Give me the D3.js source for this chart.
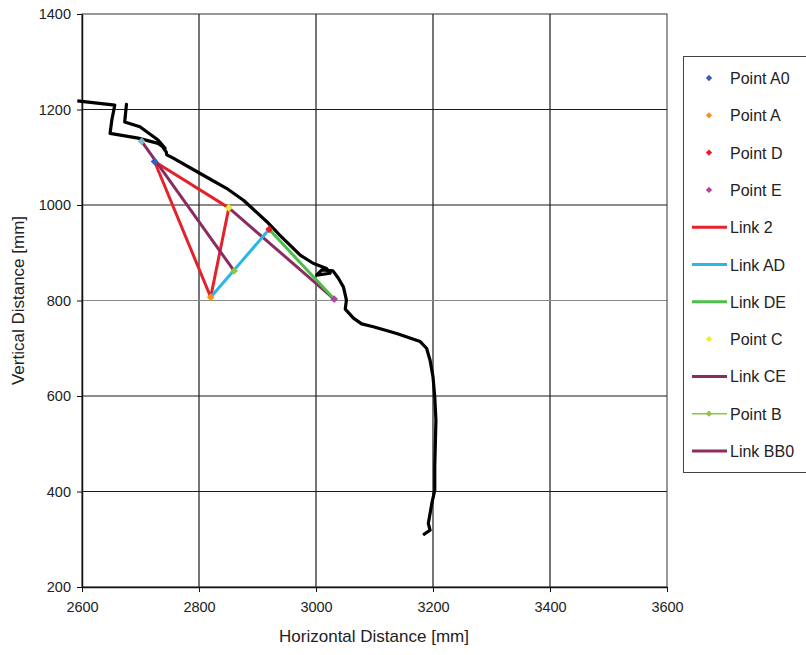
<!DOCTYPE html>
<html lang="en">
<head>
  <meta charset="UTF-8" />
  <title>Mechanism trajectory</title>
  <style>
    body {
      margin: 0;
      background: #fff;
      font-family: "Liberation Sans", Arial, sans-serif;
    }
    svg { display: block; }
    .tick text { fill: #222; font-size: 14.5px; }
    .axis-title { font-size: 17px; fill: #222; }
    .legend text { font-size: 16px; fill: #222; }
  </style>
</head>
<body>
  <svg width="806" height="655"></svg>

  <script src="https://cdnjs.cloudflare.com/ajax/libs/d3/7.8.5/d3.min.js"></script>
  <script>
    // axis ticks
    const xTicks = [2600, 2800, 3000, 3200, 3400, 3600];
    const yTicks = [200, 400, 600, 800, 1000, 1200, 1400];

    // black traced outline [horizontal, vertical] in mm
    const trace = [
      [2592, 1218], [2656, 1209], [2651, 1178], [2648, 1150], [2696, 1140],
      [2730, 1129], [2742, 1119], [2730, 1136], [2699, 1164], [2673, 1174],
      [2676, 1211], [2673, 1174], [2699, 1164], [2730, 1136], [2744, 1111],
      [2745, 1105], [2756, 1098], [2802, 1066], [2847, 1035], [2876, 1010],
      [2916, 965], [2938, 937], [2973, 895], [2995, 878], [3018, 867],
      [3024, 857], [3001, 853], [3010, 864], [3029, 862], [3038, 847],
      [3047, 828], [3052, 801], [3050, 782], [3064, 763], [3078, 751],
      [3098, 745], [3138, 731], [3178, 714], [3189, 700], [3195, 675],
      [3200, 640], [3203, 598], [3205, 550], [3203, 452], [3203, 403],
      [3198, 375], [3192, 333], [3195, 319], [3183, 309]
    ];

    // joint positions
    const pointA0 = [2724, 1091];
    const pointA = [2820, 807];
    const pointC = [2851, 994];
    const pointD = [2920, 949];
    const pointE = [3031, 803];
    const pointB = [2860, 862];
    const pointB0 = [2702, 1133];

    // links (polylines between joints)
    const link2 = [pointA0, pointC, pointA, pointA0];
    const linkAD = [pointA, pointD];
    const linkDE = [pointD, pointE];
    const linkCE = [pointC, pointE];
    const linkBB0 = [pointB0, pointB];

    const legendItems = [
      { name: "Point A0", kind: "point", color: "#3b5bbf" },
      { name: "Point A", kind: "point", color: "#f7941d" },
      { name: "Point D", kind: "point", color: "#ee1c25" },
      { name: "Point E", kind: "point", color: "#b4449f" },
      { name: "Link 2", kind: "line", color: "#e4222b" },
      { name: "Link AD", kind: "line", color: "#2ab7e6" },
      { name: "Link DE", kind: "line", color: "#4cbf48" },
      { name: "Point C", kind: "point", color: "#f2ec2a" },
      { name: "Link CE", kind: "line", color: "#8a2c62" },
      { name: "Point B", kind: "both", color: "#8dc63f" },
      { name: "Link BB0", kind: "line", color: "#8a2c62" }
    ];
    const col = Object.fromEntries(legendItems.map(d => [d.name, d.color]));

    const svg = d3.select("svg");

    const x = d3.scaleLinear().domain([2600, 3600]).range([82, 667]);
    const y = d3.scaleLinear().domain([200, 1400]).range([587, 14]);

    // gridlines
    const grid = svg.append("g");
    grid.selectAll("line.v")
      .data(xTicks.slice(1, -1))
      .join("line")
      .attr("x1", d => x(d)).attr("x2", d => x(d))
      .attr("y1", y(1400)).attr("y2", y(200))
      .attr("stroke", "#1a1a1a").attr("stroke-width", 1.2);
    grid.selectAll("line.h")
      .data(yTicks.slice(1, -1))
      .join("line")
      .attr("x1", x(2600)).attr("x2", x(3600))
      .attr("y1", d => y(d)).attr("y2", d => y(d))
      .attr("stroke", d => d === 800 ? "#8a8a8a" : "#1a1a1a")
      .attr("stroke-width", 1.2);

    // frame
    svg.append("rect")
      .attr("x", x(2600)).attr("y", y(1400))
      .attr("width", x(3600) - x(2600)).attr("height", y(200) - y(1400))
      .attr("fill", "none").attr("stroke", "#333").attr("stroke-width", 1);

    // axes
    const xAxis = svg.append("g")
      .attr("transform", `translate(0,${y(200)})`)
      .call(d3.axisBottom(x).tickValues(xTicks).tickSize(5).tickSizeOuter(0).tickFormat(d3.format("d")));
    xAxis.select(".domain").attr("stroke", "#111").attr("stroke-width", 1.5);
    xAxis.selectAll(".tick line").attr("stroke", "#111");
    xAxis.selectAll(".tick text").attr("dy", "1.2em").style("font-family", "Liberation Sans, Arial, sans-serif");

    const yAxis = svg.append("g")
      .attr("transform", `translate(${x(2600)},0)`)
      .call(d3.axisLeft(y).tickValues(yTicks).tickSize(5).tickSizeOuter(0).tickFormat(d3.format("d")));
    yAxis.select(".domain").attr("stroke", "#111").attr("stroke-width", 1.5);
    yAxis.selectAll(".tick text").attr("x", -11).style("font-family", "Liberation Sans, Arial, sans-serif");
    yAxis.selectAll(".tick line").attr("stroke", "#111");

    svg.append("text")
      .attr("class", "axis-title")
      .attr("x", 374).attr("y", 642)
      .attr("text-anchor", "middle")
      .text("Horizontal Distance [mm]");
    svg.append("text")
      .attr("class", "axis-title")
      .attr("transform", `translate(24,${(y(200) + y(1400)) / 2}) rotate(-90)`)
      .attr("text-anchor", "middle")
      .text("Vertical Distance [mm]");

    const line = d3.line().x(d => x(d[0])).y(d => y(d[1]));

    // trace
    svg.append("path")
      .datum(trace)
      .attr("d", line)
      .attr("fill", "none")
      .attr("stroke", "#000")
      .attr("stroke-width", 3.2)
      .attr("stroke-linejoin", "round");

    // links
    const links = [
      { pts: link2, c: col["Link 2"] },
      { pts: linkBB0, c: col["Link BB0"] },
      { pts: linkCE, c: col["Link CE"] },
      { pts: linkAD, c: col["Link AD"] },
      { pts: linkDE, c: col["Link DE"] }
    ];
    svg.append("g").selectAll("path")
      .data(links)
      .join("path")
      .attr("d", d => line(d.pts))
      .attr("fill", "none")
      .attr("stroke", d => d.c)
      .attr("stroke-width", 3)
      .attr("stroke-linejoin", "round");

    // joint markers (square turned 45 degrees)
    const diamond = d3.symbol(d3.symbolSquare, 30);
    const joints = [
      { p: pointB0, c: "#7fb8c8" },
      { p: pointA0, c: col["Point A0"] },
      { p: pointA, c: col["Point A"] },
      { p: pointC, c: col["Point C"] },
      { p: pointD, c: col["Point D"] },
      { p: pointE, c: col["Point E"] },
      { p: pointB, c: col["Point B"] }
    ];
    svg.append("g").selectAll("path")
      .data(joints)
      .join("path")
      .attr("d", diamond)
      .attr("transform", d => `translate(${x(d.p[0])},${y(d.p[1])}) rotate(45)`)
      .attr("fill", d => d.c);

    // legend
    const lg = svg.append("g").attr("class", "legend");
    lg.append("rect")
      .attr("x", 683.5).attr("y", 56.5)
      .attr("width", 140).attr("height", 416)
      .attr("fill", "#fff").attr("stroke", "#444").attr("stroke-width", 1);
    const item = lg.selectAll("g.item")
      .data(legendItems)
      .join("g")
      .attr("class", "item")
      .attr("transform", (d, i) => `translate(0,${78 + i * 37.3})`);
    item.filter(d => d.kind !== "point")
      .append("line")
      .attr("x1", 692).attr("x2", 727)
      .attr("stroke", d => d.color)
      .attr("stroke-width", d => d.kind === "both" ? 1.5 : 3);
    item.filter(d => d.kind !== "line")
      .append("path")
      .attr("d", d3.symbol(d3.symbolSquare, 20))
      .attr("transform", "translate(709,0) rotate(45)")
      .attr("fill", d => d.color);
    item.append("text")
      .attr("x", 730).attr("y", 6)
      .text(d => d.name);
  </script>
</body>
</html>
